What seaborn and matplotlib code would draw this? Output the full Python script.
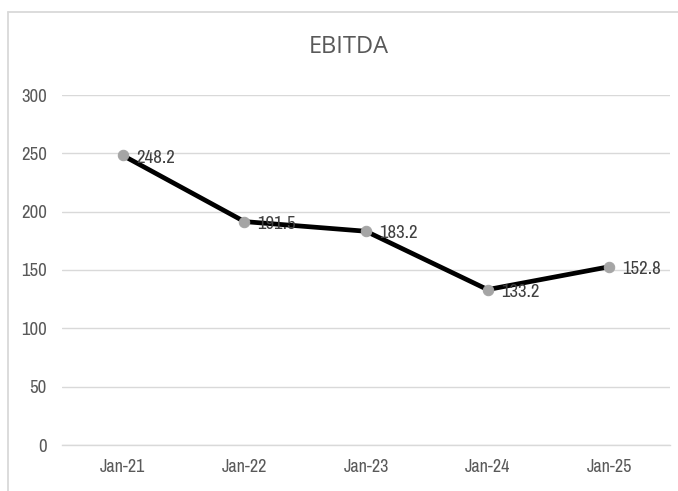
import matplotlib
matplotlib.use("Agg")
import matplotlib.pyplot as plt
from matplotlib import font_manager
from matplotlib.lines import Line2D
from matplotlib.ticker import FixedLocator
import seaborn as sns
import pandas as pd

periods = ["Jan-21", "Jan-22", "Jan-23", "Jan-24", "Jan-25"]
ebitda = [248.2, 191.5, 183.2, 133.2, 152.8]
y_ticks = [0, 50, 100, 150, 200, 250, 300]

sns.set_theme(style="white")

# Prefer a narrow face for the labels when one is installed
narrow = None
for f in font_manager.fontManager.ttflist:
    if "Narrow" in f.name or "Condensed" in f.name:
        narrow = f.name
        break
families = [narrow, "DejaVu Sans"] if narrow else ["DejaVu Sans"]
plt.rcParams["font.family"] = families
plt.rcParams["font.stretch"] = "condensed"

df = pd.DataFrame({"period": periods, "value": ebitda})
df["pos"] = range(len(df))

fig = plt.figure(figsize=(6.78, 4.91), dpi=100)
ax = fig.add_axes([62 / 678, 46 / 491, 608 / 678, 350 / 491])

grey_text = "#595959"
label_col = "#404040"
grid_col = "#D9D9D9"

sns.lineplot(data=df, x="pos", y="value", ax=ax, color="black", linewidth=3.4,
             marker="o", markersize=7.5, markerfacecolor="#A5A5A5",
             markeredgecolor="#A5A5A5", zorder=3)

for x, v in zip(df["pos"], df["value"]):
    ax.annotate(f"{v:.1f}", xy=(x, v), xytext=(9.5, -1.5), textcoords="offset points",
                ha="left", va="center", fontsize=13.5, color=label_col, zorder=4)

ax.set_xlim(-0.5, len(periods) - 0.5)
ax.set_ylim(0, 300)
ax.set_yticks(y_ticks)
ax.set_yticklabels([str(t) for t in y_ticks], fontsize=13.5, color=grey_text)
ax.set_xticks(list(df["pos"]))
ax.set_xticklabels(periods, fontsize=13, color=grey_text)
ax.xaxis.set_minor_locator(FixedLocator([i - 0.5 for i in range(len(periods) + 1)]))
ax.tick_params(axis="x", which="major", length=0, pad=10)
ax.tick_params(axis="x", which="minor", length=5, width=1, color=grid_col, direction="out")
ax.tick_params(axis="y", length=0, pad=11)

ax.grid(axis="y", color=grid_col, linewidth=1)
ax.grid(axis="x", visible=False)
for side in ["top", "right", "left"]:
    ax.spines[side].set_visible(False)
ax.spines["bottom"].set_color(grid_col)
ax.spines["bottom"].set_linewidth(1)
ax.set_xlabel("")
ax.set_ylabel("")

fig.text(349 / 678, 1 - 47 / 491, "EBITDA", ha="center", va="center",
         fontsize=17, color=grey_text, family=["Open Sans", "DejaVu Sans"],
         fontstretch="normal", fontweight="normal")

# chart-area frame: only its left and top edges fall inside the canvas
bx, by = 7.5 / 678, 1 - 12 / 491
fig.add_artist(Line2D([bx, bx], [0, by], transform=fig.transFigure,
                      color=grid_col, linewidth=1.3))
fig.add_artist(Line2D([bx, 1], [by, by], transform=fig.transFigure,
                      color=grid_col, linewidth=1.3))

fig.savefig("out.png", dpi=100)
